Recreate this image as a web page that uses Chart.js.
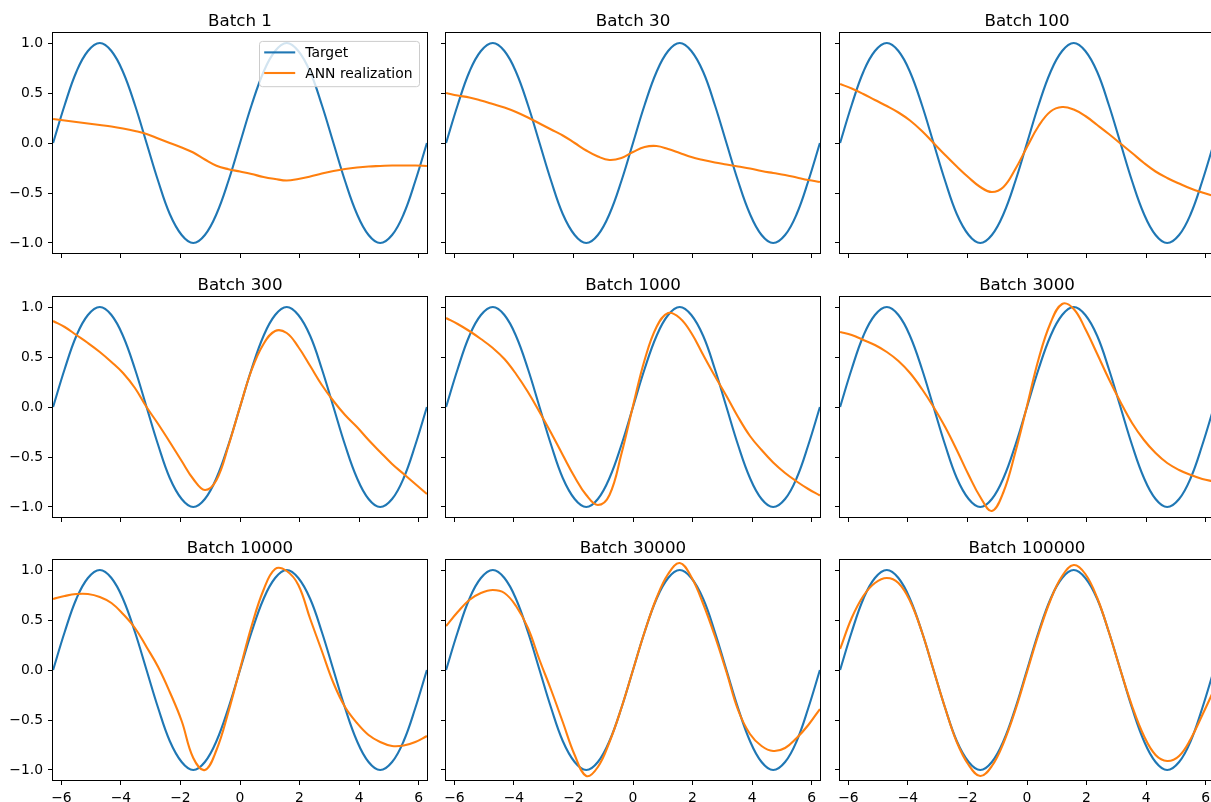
<!DOCTYPE html>
<html>
<head>
<meta charset="utf-8">
<script src="https://cdn.jsdelivr.net/npm/chart.js@4.4.0/dist/chart.umd.min.js"></script>
<style>
html, body { margin: 0; padding: 0; background: #fff; width: 1211px; height: 802px; overflow: hidden; }
canvas { position: absolute; }
</style>
</head>
<body>
<script>
// sample points along x (step pi/8 from -2pi to 2pi)
const xs = [-6.28, -5.89, -5.5, -5.11, -4.71, -4.32, -3.93, -3.53, -3.14, -2.75, -2.36, -1.96, -1.57, -1.18, -0.79, -0.39,
    0, 0.39, 0.79, 1.18, 1.57, 1.96, 2.36, 2.75, 3.14, 3.53, 3.93, 4.32, 4.71, 5.11, 5.5, 5.89, 6.28];

const target = [0, 0.38, 0.71, 0.92, 1, 0.92, 0.71, 0.38, 0, -0.38, -0.71, -0.92, -1, -0.92, -0.71, -0.38,
    0, 0.38, 0.71, 0.92, 1, 0.92, 0.71, 0.38, 0, -0.38, -0.71, -0.92, -1, -0.92, -0.71, -0.38, 0];

const ann1 = [0.24, 0.225, 0.21, 0.195, 0.18, 0.165, 0.145, 0.12, 0.09, 0.045, 0.0, -0.045, -0.095, -0.165, -0.227, -0.262,
    -0.285, -0.31, -0.34, -0.36, -0.375, -0.36, -0.335, -0.305, -0.28, -0.26, -0.245, -0.235, -0.23, -0.225, -0.225, -0.225, -0.23];
const ann30 = [0.50, 0.475, 0.455, 0.425, 0.39, 0.355, 0.31, 0.255, 0.195, 0.135, 0.075, 0.0, -0.075, -0.135, -0.17, -0.15,
    -0.09, -0.04, -0.03, -0.06, -0.10, -0.14, -0.17, -0.195, -0.215, -0.235, -0.255, -0.28, -0.30, -0.32, -0.345, -0.37, -0.39];
const ann100 = [0.59, 0.545, 0.49, 0.43, 0.37, 0.305, 0.225, 0.12, 0.0, -0.12, -0.235, -0.345, -0.44, -0.49, -0.44, -0.26,
    -0.04, 0.17, 0.315, 0.36, 0.335, 0.27, 0.18, 0.09, -0.005, -0.10, -0.20, -0.285, -0.35, -0.405, -0.455, -0.495, -0.53];
const ann300 = [0.86, 0.80, 0.72, 0.64, 0.55, 0.45, 0.34, 0.19, 0.0, -0.17, -0.35, -0.54, -0.72, -0.83, -0.73, -0.39,
    0.0, 0.37, 0.63, 0.76, 0.74, 0.60, 0.41, 0.22, 0.06, -0.08, -0.20, -0.33, -0.45, -0.57, -0.67, -0.77, -0.87];
const ann1000 = [0.89, 0.83, 0.76, 0.68, 0.59, 0.48, 0.33, 0.15, -0.05, -0.26, -0.48, -0.70, -0.88, -0.98, -0.88, -0.47,
    0.01, 0.47, 0.80, 0.94, 0.89, 0.74, 0.52, 0.31, 0.11, -0.10, -0.29, -0.43, -0.555, -0.66, -0.745, -0.82, -0.885];
const ann3000 = [0.75, 0.72, 0.67, 0.62, 0.55, 0.46, 0.34, 0.18, 0.0, -0.20, -0.43, -0.68, -0.90, -1.04, -0.85, -0.45,
    0.01, 0.48, 0.84, 1.03, 0.98, 0.78, 0.53, 0.28, 0.05, -0.16, -0.33, -0.46, -0.56, -0.63, -0.68, -0.72, -0.745];
const ann10000 = [0.71, 0.74, 0.76, 0.76, 0.73, 0.67, 0.56, 0.42, 0.23, 0.03, -0.22, -0.51, -0.88, -1.00, -0.80, -0.42,
    0.01, 0.44, 0.80, 1.01, 0.99, 0.85, 0.51, 0.19, -0.13, -0.37, -0.53, -0.65, -0.72, -0.76, -0.755, -0.72, -0.66];
const ann30000 = [0.44, 0.58, 0.70, 0.77, 0.80, 0.77, 0.64, 0.42, 0.10, -0.20, -0.52, -0.85, -1.06, -0.97, -0.72, -0.38,
    0.0, 0.38, 0.72, 0.96, 1.07, 0.93, 0.66, 0.34, -0.02, -0.40, -0.64, -0.76, -0.81, -0.78, -0.68, -0.55, -0.39];
const ann100000 = [0.21, 0.52, 0.74, 0.87, 0.92, 0.87, 0.69, 0.38, 0.0, -0.38, -0.72, -0.95, -1.06, -0.96, -0.73, -0.40,
    -0.02, 0.36, 0.70, 0.94, 1.05, 0.96, 0.72, 0.38, 0.0, -0.36, -0.66, -0.85, -0.91, -0.86, -0.69, -0.45, -0.20];

const titles = ['Batch 1', 'Batch 30', 'Batch 100', 'Batch 300', 'Batch 1000', 'Batch 3000',
    'Batch 10000', 'Batch 30000', 'Batch 100000'];
const annSeries = [ann1, ann30, ann100, ann300, ann1000, ann3000, ann10000, ann30000, ann100000];
const seriesLabels = ['Target', 'ANN realization'];
const xTicks = [-6, -4, -2, 0, 2, 4, 6];
const yTicks = [-1.0, -0.5, 0.0, 0.5, 1.0];

const FONT = 'DejaVu Sans';
const PLOT_W = 374, PLOT_H = 220;
const LEFT_M = 50, TOP_M = 33, RIGHT_M = 8, BOTTOM_M = 25;
const plotLefts = [53, 446, 840];
const plotTops = [33, 297, 560];

Chart.defaults.font.family = FONT;

function fmt(v, digits) {
    const s = Math.abs(v).toFixed(digits);
    return v < 0 ? '\u2212' + s : s;
}

// spines, title and (for the first panel) the legend box
const subplotFrame = {
    id: 'subplotFrame',
    afterDatasetsDraw(chart, args, opts) {
        const a = chart.chartArea;
        const ctx = chart.ctx;
        ctx.save();
        ctx.strokeStyle = '#000';
        ctx.lineWidth = 1;
        ctx.strokeRect(a.left - 0.5, a.top - 0.5, a.width + 1, a.height + 1);

        ctx.fillStyle = '#000';
        ctx.font = '16.7px "' + FONT + '"';
        ctx.textAlign = 'center';
        ctx.textBaseline = 'alphabetic';
        ctx.fillText(opts.title, (a.left + a.right) / 2, a.top - 7.5);

        if (opts.legend) {
            ctx.font = '13.9px "' + FONT + '"';
            const labels = chart.data.datasets.map(d => d.label);
            const textW = Math.max(...labels.map(l => ctx.measureText(l).width));
            const w = 45.7 + textW + 7;
            const h = 45.3;
            const bx = a.right - 7.5 - w;
            const by = a.top + 8.4;
            ctx.beginPath();
            ctx.roundRect(bx, by, w, h, 3);
            ctx.fillStyle = 'rgba(255,255,255,0.8)';
            ctx.fill();
            ctx.strokeStyle = '#cccccc';
            ctx.stroke();
            ctx.textAlign = 'left';
            ctx.textBaseline = 'middle';
            chart.data.datasets.forEach((d, k) => {
                const ly = by + 11 + k * 20.6;
                ctx.strokeStyle = d.borderColor;
                ctx.lineWidth = 2.1;
                ctx.beginPath();
                ctx.moveTo(bx + 4.7, ly);
                ctx.lineTo(bx + 35.7, ly);
                ctx.stroke();
                ctx.fillStyle = '#000';
                ctx.fillText(d.label, bx + 45.7, ly + 1);
            });
        }
        ctx.restore();
    }
};

function makeAxis(min, max, tickList, showLabels, digits, isX) {
    return {
        type: 'linear',
        min: min,
        max: max,
        afterBuildTicks: s => { s.ticks = tickList.map(v => ({ value: v })); },
        afterFit: s => {
            if (isX) s.height = BOTTOM_M; else s.width = LEFT_M;
            s.paddingLeft = 0; s.paddingRight = 0; s.paddingTop = 0; s.paddingBottom = 0;
        },
        border: { display: false },
        grid: { drawOnChartArea: false, drawTicks: true, tickLength: 5, color: '#000', tickColor: '#000', lineWidth: 1 },
        ticks: {
            display: showLabels,
            padding: 5,
            color: '#000',
            autoSkip: false,
            maxRotation: 0,
            font: { family: FONT, size: 13.9 },
            callback: v => fmt(v, digits)
        }
    };
}

titles.forEach((title, i) => {
    const row = Math.floor(i / 3);
    const col = i % 3;
    const canvas = document.createElement('canvas');
    canvas.width = LEFT_M + PLOT_W + RIGHT_M;
    canvas.height = TOP_M + PLOT_H + BOTTOM_M;
    canvas.style.left = (plotLefts[col] - LEFT_M) + 'px';
    canvas.style.top = (plotTops[row] - TOP_M) + 'px';
    document.body.appendChild(canvas);

    const ann = annSeries[i];
    new Chart(canvas.getContext('2d'), {
        type: 'line',
        data: {
            datasets: [
                {
                    label: seriesLabels[0],
                    data: xs.map((x, j) => ({ x: x, y: target[j] })),
                    borderColor: '#1f77b4',
                    borderWidth: 2.1,
                    pointRadius: 0,
                    tension: 0.4,
                    order: 2
                },
                {
                    label: seriesLabels[1],
                    data: xs.map((x, j) => ({ x: x, y: ann[j] })),
                    borderColor: '#ff7f0e',
                    borderWidth: 2.1,
                    pointRadius: 0,
                    tension: 0.4,
                    order: 1
                }
            ]
        },
        options: {
            responsive: false,
            animation: false,
            events: [],
            layout: { padding: { top: TOP_M, right: RIGHT_M, left: 0, bottom: 0 } },
            plugins: {
                legend: { display: false },
                tooltip: { enabled: false },
                subplotFrame: { title: title, legend: i === 0 }
            },
            scales: {
                x: makeAxis(-6.283, 6.283, xTicks, row === 2, 0, true),
                y: makeAxis(-1.1, 1.1, yTicks, col === 0, 1, false)
            }
        },
        plugins: [subplotFrame]
    });
});
</script>
</body>
</html>
